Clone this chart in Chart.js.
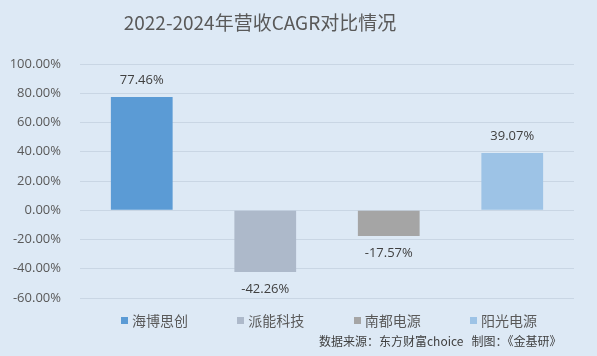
<!DOCTYPE html>
<html>
<head>
<meta charset="utf-8">
<script src="https://cdn.jsdelivr.net/npm/chart.js@4/dist/chart.umd.min.js"></script>
<style>
  html, body { margin: 0; padding: 0; background: #DDE9F5; }
  #wrap { position: relative; width: 597px; height: 356px; background: #DDE9F5; overflow: hidden; }
  canvas { position: absolute; left: 0; top: 0; }
  #title { position: absolute; left: 0; width: 520px; top: 8px; text-align: center; font-family: "Noto Sans CJK SC", sans-serif; font-size: 19px; color: #595959; line-height: 28px; white-space: nowrap; }
  #legend { position: absolute; left: 121px; width: 416px; top: 309px; display: flex; justify-content: space-between; font-family: "Noto Sans CJK SC", sans-serif; font-size: 14px; color: #595959; line-height: 22px; }
  #legend .item { display: flex; align-items: center; white-space: nowrap; }
  #legend .sw { width: 7px; height: 7px; margin-right: 4px; }
  #footer { position: absolute; left: 319px; top: 332px; font-family: "Noto Sans CJK SC", sans-serif; font-size: 12px; color: #404040; white-space: nowrap; line-height: 18px; }
</style>
</head>
<body>
<div id="wrap">
  <canvas id="c" width="597" height="356"></canvas>
  <div id="title"></div>
  <div id="legend"></div>
  <div id="footer">数据来源：东方财富choice&nbsp;&nbsp;&nbsp;制图：《金基研》</div>
</div>
<script>
const titleText = '2022-2024年营收CAGR对比情况';
const categories = ['海博思创', '派能科技', '南都电源', '阳光电源'];
const cagrValues = [77.46, -42.26, -17.57, 39.07];
const barColors = ['#5B9BD5', '#ADB9CA', '#A5A5A5', '#9DC3E6'];
const yTicks = { min: -60, max: 100, step: 20 };

document.getElementById('title').textContent = titleText;
const legendEl = document.getElementById('legend');
categories.forEach((c, i) => {
  const item = document.createElement('div');
  item.className = 'item';
  const sw = document.createElement('span');
  sw.className = 'sw';
  sw.style.background = barColors[i];
  const tx = document.createElement('span');
  tx.textContent = c;
  item.appendChild(sw);
  item.appendChild(tx);
  legendEl.appendChild(item);
});

const labelPlugin = {
  id: 'valueLabels',
  afterDatasetsDraw(chart) {
    const ctx = chart.ctx;
    const meta = chart.getDatasetMeta(0);
    ctx.save();
    ctx.font = '13px "Open Sans", "Noto Sans CJK SC", sans-serif';
    ctx.fillStyle = '#404040';
    ctx.textAlign = 'center';
    ctx.textBaseline = 'middle';
    meta.data.forEach((bar, i) => {
      const v = cagrValues[i];
      const y = v >= 0 ? bar.y - 17 : bar.y + 17;
      ctx.fillText(v.toFixed(2) + '%', bar.x, y);
    });
    ctx.restore();
  }
};

new Chart(document.getElementById('c'), {
  type: 'bar',
  data: {
    labels: categories,
    datasets: [{
      data: cagrValues,
      backgroundColor: barColors,
      borderWidth: 0,
      barPercentage: 0.5,
      categoryPercentage: 1.0
    }]
  },
  options: {
    responsive: false,
    animation: false,
    layout: { padding: { left: 0, right: 23, top: 64, bottom: 58 } },
    plugins: {
      title: { display: false },
      legend: { display: false },
      tooltip: { enabled: false }
    },
    scales: {
      x: { display: false },
      y: {
        min: yTicks.min,
        max: yTicks.max,
        afterFit(scale) { scale.width = 80; },
        ticks: {
          stepSize: yTicks.step,
          padding: 19,
          color: '#595959',
          font: { family: '"Open Sans", sans-serif', size: 13 },
          callback: v => v.toFixed(2) + '%'
        },
        grid: { color: '#C9D6E4', drawTicks: false, lineWidth: 1 },
        border: { display: false }
      }
    }
  },
  plugins: [labelPlugin]
});
</script>
</body>
</html>
